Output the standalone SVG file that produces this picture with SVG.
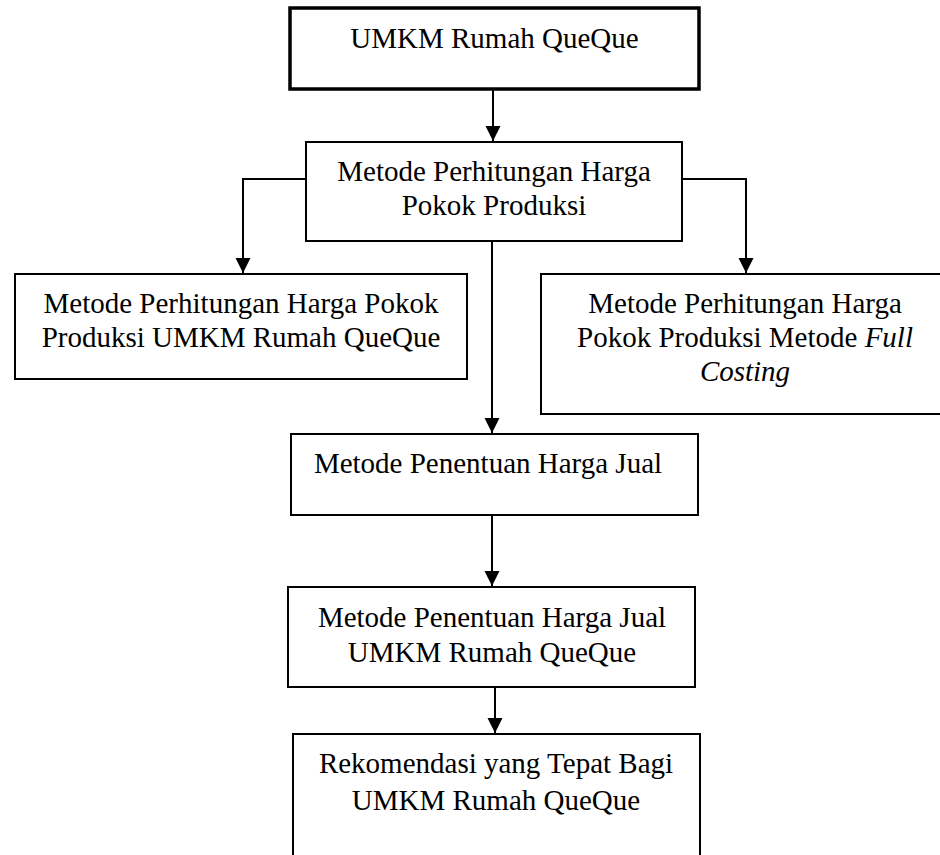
<svg xmlns="http://www.w3.org/2000/svg" width="940" height="855" viewBox="0 0 940 855">
<style>
.box{fill:#fff;stroke:#000;stroke-width:2}
.thick{stroke-width:3.5}
text{font-family:"Liberation Serif","Times New Roman",serif;font-size:29px;fill:#000;text-anchor:middle}
.it{font-style:italic}
.con{fill:none;stroke:#000;stroke-width:2}
</style>
<defs>
<marker id="ah" markerUnits="userSpaceOnUse" markerWidth="16" markerHeight="16" refX="15" refY="7.5" orient="auto">
<path d="M0,0 L15,7.5 L0,15 z" fill="#000"/>
</marker>
</defs>
<rect width="940" height="855" fill="#fff"/>
<g id="connectors">
<path class="con" d="M493,89 V141" marker-end="url(#ah)"/>
<path class="con" d="M306,179 H243 V273" marker-end="url(#ah)"/>
<path class="con" d="M682,179 H746 V273" marker-end="url(#ah)"/>
<path class="con" d="M492,241 V433" marker-end="url(#ah)"/>
<path class="con" d="M492,515 V586" marker-end="url(#ah)"/>
<path class="con" d="M495,687 V733" marker-end="url(#ah)"/>
</g>
<g id="n1">
<rect class="box thick" x="290" y="8" width="409" height="81"/>
<text x="494.5" y="48">UMKM Rumah QueQue</text>
</g>
<g id="n2">
<rect class="box" x="306" y="142" width="376" height="99"/>
<text x="494" y="181">Metode Perhitungan Harga</text>
<text x="494" y="215">Pokok Produksi</text>
</g>
<g id="n3">
<rect class="box" x="15" y="274" width="452" height="105"/>
<text x="241" y="313">Metode Perhitungan Harga Pokok</text>
<text x="241" y="347">Produksi UMKM Rumah QueQue</text>
</g>
<g id="n4">
<rect class="box" x="541" y="274" width="420" height="140"/>
<text x="745" y="313">Metode Perhitungan Harga</text>
<text x="745" y="347">Pokok Produksi Metode <tspan class="it">Full</tspan></text>
<text x="745" y="381" class="it">Costing</text>
</g>
<g id="n5">
<rect class="box" x="291" y="434" width="407" height="81"/>
<text x="488" y="473">Metode Penentuan Harga Jual</text>
</g>
<g id="n6">
<rect class="box" x="288" y="587" width="407" height="100"/>
<text x="492" y="627">Metode Penentuan Harga Jual</text>
<text x="492" y="662">UMKM Rumah QueQue</text>
</g>
<g id="n7">
<rect class="box" x="293" y="734" width="407" height="140"/>
<text x="496" y="773">Rekomendasi yang Tepat Bagi</text>
<text x="496" y="810">UMKM Rumah QueQue</text>
</g>
</svg>
